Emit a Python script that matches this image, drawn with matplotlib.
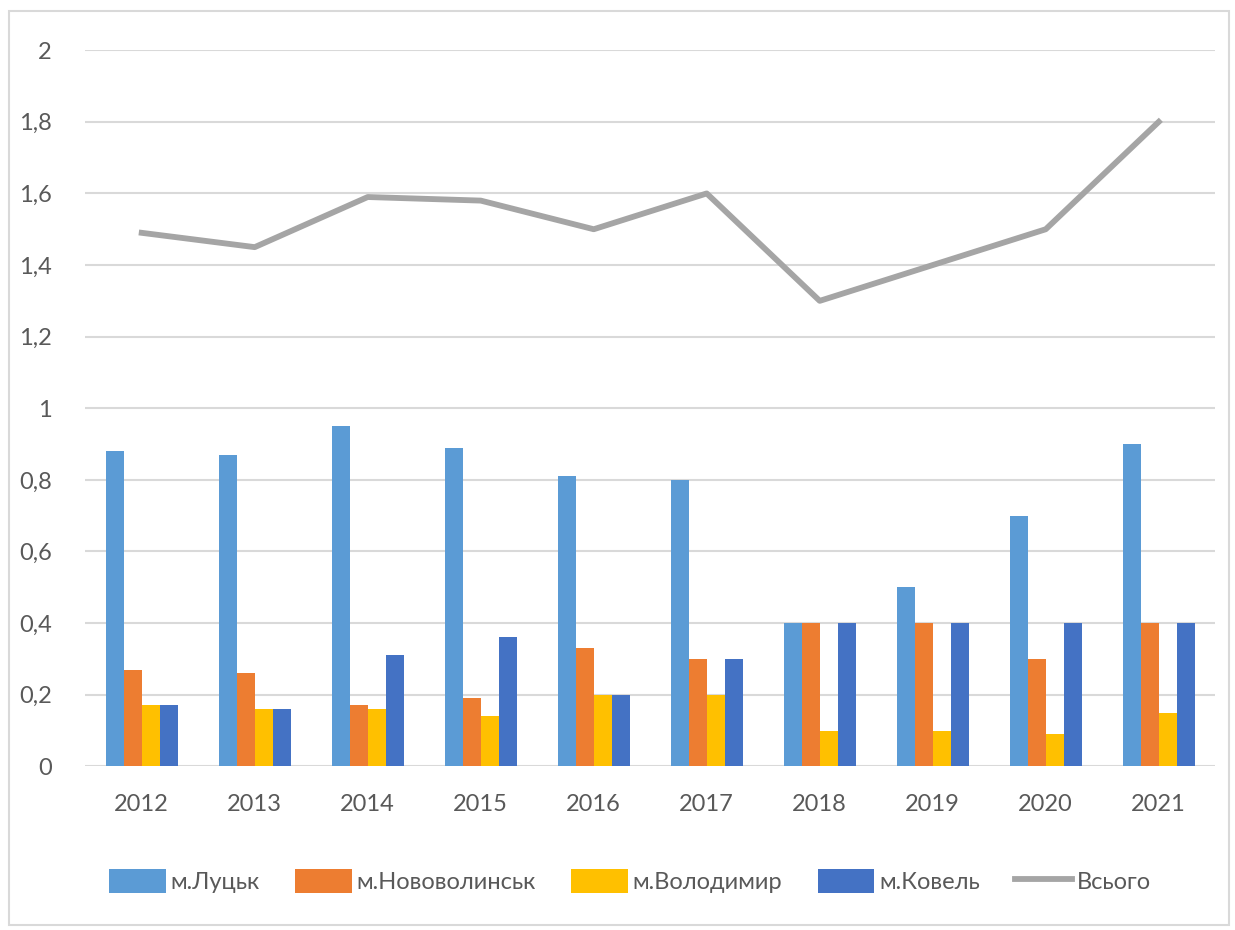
import numpy as np
import matplotlib
matplotlib.use('Agg')
from matplotlib import pyplot as plt
from matplotlib.patches import Rectangle

plt.rcParams['font.family'] = ['Lato', 'DejaVu Sans']

# дані
years = ['2012', '2013', '2014', '2015', '2016', '2017', '2018', '2019', '2020', '2021']
lutsk = [0.88, 0.87, 0.95, 0.89, 0.81, 0.80, 0.40, 0.50, 0.70, 0.90]
novovolynsk = [0.27, 0.26, 0.17, 0.19, 0.33, 0.30, 0.40, 0.40, 0.30, 0.40]
volodymyr = [0.17, 0.16, 0.16, 0.14, 0.20, 0.20, 0.10, 0.10, 0.09, 0.15]
kovel = [0.17, 0.16, 0.31, 0.36, 0.20, 0.30, 0.40, 0.40, 0.40, 0.40]
total = [1.49, 1.45, 1.59, 1.58, 1.50, 1.60, 1.30, 1.40, 1.50, 1.80]

names = ['м.Луцьк', 'м.Нововолинськ', 'м.Володимир', 'м.Ковель']
colors = ['#5b9bd5', '#ed7d31', '#ffc000', '#4472c4']

fig = plt.figure(figsize=(12.35, 9.3), dpi=100)
ax = fig.add_axes([0.069, 0.176, 0.915, 0.770])

x = np.arange(len(years))
w = 0.16
series = [lutsk, novovolynsk, volodymyr, kovel]
handles = []
for i, (vals, name, c) in enumerate(zip(series, names, colors)):
    b = ax.bar(x + (i - 1.5) * w, vals, w, color=c, label=name, linewidth=0, zorder=3)
    handles.append(b)

ln, = ax.plot(x, total, color='#a5a5a5', linewidth=4.2, label='Всього', zorder=4)
handles.append(ln)

ax.set_xlim(-0.5, len(years) - 0.5)
ax.set_ylim(0, 2)
ax.set_yticks(np.arange(0, 2.01, 0.2))
ax.set_yticklabels(['0', '0,2', '0,4', '0,6', '0,8', '1', '1,2', '1,4', '1,6', '1,8', '2'])
ax.set_xticks(x)
ax.set_xticklabels(years)
ax.tick_params(axis='both', length=0, labelsize=17, labelcolor='#595959')
ax.tick_params(axis='y', pad=24)
ax.tick_params(axis='x', pad=20)
ax.yaxis.grid(True, color='#d9d9d9', linewidth=1.5, zorder=0)
ax.set_axisbelow(True)
for s in ax.spines.values():
    s.set_visible(False)

leg = fig.legend(handles=handles, labels=names + ['Всього'], loc='center',
                 bbox_to_anchor=(0.51, 0.053), ncol=5, frameon=False,
                 fontsize=17, handlelength=2.4, handleheight=1.2, columnspacing=1.5,
                 handletextpad=0.2)
for t in leg.get_texts():
    t.set_color('#595959')

# рамка діаграми
fig.patches.append(Rectangle((0.007, 0.005), 0.988, 0.983, transform=fig.transFigure,
                             fill=False, edgecolor='#d9d9d9', linewidth=1.5))

plt.savefig('out.png')
